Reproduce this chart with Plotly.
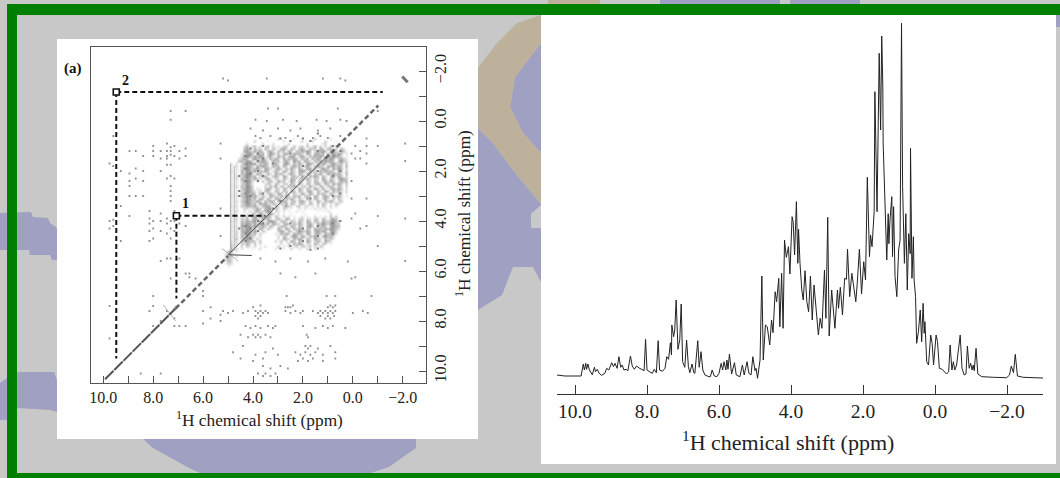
import plotly.graph_objects as go

W, H = 1060, 478
FONT = "Liberation Serif"

# ---------- 1D spectrum (ppm, intensity above axis, arbitrary units) ----------
spectrum_ppm = [10.51,10.28,9.83,9.79,9.77,9.74,9.70,9.68,9.64,9.60,9.57,9.52,9.46,9.43,9.38,9.33,9.26,9.17,9.12,9.06,
8.98,8.93,8.89,8.83,8.78,8.73,8.69,8.64,8.58,8.53,8.46,8.41,8.35,8.29,8.22,8.13,8.08,8.04,8.00,7.92,7.85,7.80,7.74,7.69,7.65,7.57,
7.50,7.45,7.40,7.35,7.32,7.31,7.26,7.23,7.19,7.14,7.09,7.05,7.01,6.95,6.90,6.85,6.81,6.75,6.70,6.67,6.59,6.55,6.50,6.45,6.39,6.28,
6.24,6.19,6.13,6.06,6.00,5.94,5.90,5.86,5.81,5.78,5.75,5.71,5.65,5.57,5.52,5.42,5.35,5.30,5.22,5.17,5.11,5.06,5.00,4.97,4.93,
4.86,4.81,4.77,4.71,4.66,4.59,4.54,4.50,4.44,4.40,4.34,4.31,4.26,4.22,4.18,4.13,4.07,4.03,3.97,3.94,3.90,3.85,3.81,3.79,3.75,3.70,
3.66,3.61,3.56,3.51,3.46,3.41,3.36,3.30,3.24,3.19,3.14,3.07,3.03,2.98,2.94,2.87,2.78,2.71,2.68,2.63,2.57,2.51,2.46,2.43,2.37,2.31,
2.25,2.20,2.16,2.10,2.04,1.98,1.93,1.88,1.82,1.79,1.75,1.69,1.67,1.64,1.61,1.55,1.51,1.48,1.45,1.44,1.34,1.30,1.28,1.25,1.20,1.18,
1.15,1.11,1.06,1.01,0.97,0.93,0.90,0.85,0.81,0.77,0.73,0.69,0.68,0.64,0.60,0.58,0.54,0.51,0.46,0.41,0.37,0.33,0.30,0.28,0.23,0.18,
0.12,0.08,0.04,-0.03,-0.07,-0.12,-0.20,-0.32,-0.38,-0.42,-0.47,-0.51,-0.55,-0.60,-0.67,-0.70,-0.75,-0.81,-0.86,-0.90,-0.95,-0.99,
-1.03,-1.06,-1.09,-1.14,-1.19,-1.30,-1.62,-1.99,-2.07,-2.12,-2.18,-2.23,-2.29,-2.45,-3.00]
spectrum_intensity = [18.7,17.7,17.7,25.4,29.7,23.7,30.4,24.4,29.7,23.7,22,19,26.4,22,24.4,20.4,18.4,20.4,25.4,23.7,
31,27,30.4,25.4,37,26.4,28.7,23.7,24.4,23,37.7,27.7,24.4,27.7,25.7,23.7,23,54.4,23.7,21.7,20.4,24.4,21,53,23.7,22.4,
25.4,37,34.4,51,38.7,68.7,57,63.7,93.7,44.4,53.7,89.7,32,26.4,53.7,27,21,29.7,21,20.4,53,26.4,42,23.7,18.7,17,
17,23.7,17.7,17,20.4,30.4,23.7,32,23.7,33.7,24.4,39.7,19.7,31,18.7,17,28.7,18.7,32,20.4,18.7,37,23,25.4,15.4,
33.7,117.7,33.7,68.7,67,48.7,73.7,61,102,92,115.4,67,120.4,65.4,153.7,136.4,147,119.7,177,172,138.7,192,130.4,164.4,130.4,103.7,
93.7,123,92,82,117.7,73.7,108.7,78.7,58.7,75.4,65.4,123.7,75.4,176.4,57.7,103.7,65.4,103.7,85.4,106.4,78.7,115.4,114.4,144.4,97,120.4,
102,92,110.4,144.4,99.7,132,113.7,216.4,137,158.7,147,182,302,233.7,182,340.4,263.7,357.7,308.7,250,133.7,180,150,173.7,197,137,
187,117,97,143.7,153.7,370.4,207,130.4,180,103.7,160,140,245.4,115.4,157,113.7,97,50.4,62,83.7,52,90.4,60.4,72,32,28.7,
58.7,50.4,28.7,58.7,52,25.4,24.4,19.7,22,48.7,23.7,32,23.7,28.7,50.4,58.7,25.4,18.7,19.7,47.7,25.4,30.4,
23.7,28.7,23,45.4,19.7,17,16.4,16,18.7,27.7,21,39.4,17.7,16.4,15.7]
spectrum_ticks = [10, 8, 6, 4, 2, 0, -2]
spectrum_ticktext = ["10.0", "8.0", "6.0", "4.0", "2.0", "0.0", "\u22122.0"]

# ---------- 2D map: darkness of the dense cross-peak cloud ----------
cloud_x = [round(5.2 - 0.105 * i, 3) for i in range(53)]
cloud_y = [round(0.6 + 0.1 * i, 1) for i in range(53)]
cloud_rows = [
"00000000000000000000000000000000000000000000000000000",
"00000000000000100000030000010000000300000200000000000",
"00000000000030000100000200000030003000030001000000000",
"00000000020000030002000003000000300000230000200000000",
"00000000250340202503020340040230402503030403200000000",
"00000000463052405304205630530462053406405503052000000",
"00000000574363620463053406405364750364750463064100000",
"00000002367506460375240563064530640563605374740200000",
"00000003586364750462063504750463053647306486530100000",
"00000024650475364053640635364053605364064750463200000",
"00000045376306475206350463074506430536475640574300000",
"00020202684570536304620574052630754063640574350400000",
"00020305376406475306350630463504630574306463640500000",
"00020204685357306530463052630640563403754063750300000",
"00030206376460536402530640530574064305364530640400000",
"00020205487306420530635204630530640536206374530500000",
"00020303586450365204530640352064053640530462640300000",
"00020306475364203630420530640352630430640530575400000",
"00020204586302040352063402640530340530462640364500000",
"00020203475200002430530340530620530463054063640400000",
"00030305386300003052604305364034063205304530530300000",
"00020204576402103640340530420630530640620463640200000",
"00020203486420304520530340640530463053064053530300000",
"00020205375640530353064053042063064052530630420100000",
"00030304586463052064305364053604530630464053530100000",
"00020203476350640530463052630420630530362040420000000",
"00020304585436405364053640350463042063053630340000000",
"00020203476350646305304260530342053040530204200000000",
"00030304365463055740530463203402302030420302000000000",
"00020200320236405670420320100202010202020100000000000",
"00020300203046305760320201002010000010102000000000000",
"00020201020530640573020100100001000000000300000000000",
"00030302140360753640420302010020100201020403000000000",
"00020304250475064530352064020340320430530564000000000",
"00030305364570640576304520530530640530643675200000000",
"00020206475364753606430463052630463064753764300000000",
"00030307586475364053024530640530574053640675400000000",
"00020305476350630420063064053640530645364764200000000",
"00030306586463042000036405304753640574650673000000000",
"00020405476350300000205363064530640463064562000000000",
"00030306385420200000030530475064053640574530000000000",
"00020504675303100000020642053640530643053420000000000",
"00030305364530400000304030640530640353064200000000000",
"00040304253040200000002004053640320530430100000000000",
"00050203042030102000040203024043050304200000000000000",
"00050302000100200000200100300200300200100000000000000",
"00570200000000000000000000000000000000000000000000000",
"02630000000000000000000000000000000000000000000000000",
"03540200000000000000000000000000000000000000000000000",
"04430000000000000000000000000000000000000000000000000",
"02530000000000000000000000000000000000000000000000000",
"01320000000000000000000000000000000000000000000000000",
"00100000000000000000000000000000000000000000000000000",
]

# cross-peak specks: one x with its y values
speck_columns = [
(9.75,[1.7,4.0,4.3,7.4,8.7]),(9.6,[0.6,1.8,3.95,4.2]),(9.3,[2.0,3.4,4.8]),
(8.95,[1.2,2.1,2.4,2.6,3.0,3.8]),(8.7,[1.2,1.9,2.3,3.0]),(8.4,[1.4,2.0,2.4,3.0]),
(8.15,[3.6,3.9,4.1,4.4,4.8,7.6]),(8.0,[1.0,1.2,1.4,4.0,4.3,4.7,7.0,7.4,8.2]),
(7.7,[1.2,1.5,2.0,3.7,4.0,4.4,5.6,8.0]),(7.45,[0.9,1.2,1.4,1.5,1.75,2.3,3.9,4.1,4.5,5.5,7.6]),
(7.3,[-0.4,-0.05,1.05,1.2,1.35,1.75,2.2,2.6,2.8,3.0,3.2,4.0,4.3,4.7,5.5,6.3]),
(7.15,[1.0,1.4,2.3,3.6,4.0,4.4,7.9,8.2]),(6.95,[1.2,1.5,4.1,5.5,8.2]),(6.7,[-0.4,1.1,1.4,4.2,6.1,8.2]),
(6.55,[6.1,6.25]),(6.3,[6.3]),(6.0,[6.8,7.0,7.6,8.1]),(5.7,[7.45,7.9]),(5.3,[0.9,1.5,3.5,4.6,7.75,8.0]),
(-0.55,[0.7,1.0,1.3,1.7,3.1,4.2]),(-1.0,[-0.4,1.0,3.8,5.0]),(-0.3,[1.2,1.5,4.3]),(-0.1,[1.0,1.5,3.7]),
(-2.1,[0.9,1.6,3.9,5.6]),(0.05,[1.3,2.4,3.1,3.9,6.3]),
]
speck_rows = [
(-1.7,[5.2,3.45,1.2,0.5]),(-1.62,[5.0,0.3]),(-0.5,[3.4,3.0,0.6]),
(-0.05,[3.9,2.8,1.45,0.5]),(0.0,[3.45,2.25,1.05,0.25]),(0.3,[4.1,3.0,2.1,0.9]),(0.38,[3.6,2.5,1.4]),
(0.6,[3.9,3.3,2.2,1.3,0.5]),(0.68,[3.7,2.7,1.6,1.0]),(5.5,[3.7,2.5,1.1]),(5.62,[3.1,1.8,0.2]),(6.1,[2.9,1.5]),(6.25,[2.3,-0.1]),
(7.0,[2.65,1.05,0.7,-0.75]),(7.45,[4.0,2.7,2.6,2.5,1.0,0.8]),(7.38,[3.7,2.4,0.9,0.7]),
(7.6,[5.2,4.8,4.2,3.9,3.7,3.5,2.7,2.3,2.0,1.6,1.3,1.1,0.9,0.7,-0.4]),
(7.68,[5.0,4.4,3.8,3.6,3.4,2.5,2.1,1.4,1.2,1.0,0.8,0.0,-0.6]),
(7.8,[3.9,3.7,1.3,1.0,0.75]),(7.9,[3.8,1.1,0.9]),(8.2,[4.3,3.9,3.4,3.1,2.0,1.2,0.8]),(8.28,[4.1,3.7,3.2,1.5,1.0,0.3]),
(8.55,[4.5,4.0,3.8,3.5,1.85]),(8.65,[4.2,3.9,3.7,3.3,1.8]),(9.0,[4.4,1.9,1.7,0.9]),(9.1,[3.2,1.8,1.4]),
(9.25,[4.8,3.5,2.3,1.9,1.5,0.7]),(9.35,[3.9,3.0,2.1,1.7,1.2]),(9.5,[4.5,3.6,2.0,1.6,0.7]),(9.6,[4.0,2.2,1.8,1.2]),
(9.8,[3.6,2.9]),(9.9,[3.3,2.6]),(10.1,[8.5,7.7,3.8,3.5,3.1]),(10.2,[3.6,3.3]),
]
dark_columns = [
(4.3,[1.4,1.9,2.4,2.9,4.2,4.5,4.8]),(4.1,[1.1,1.7,2.1,3.0,4.3,4.7]),(3.8,[1.3,1.6,2.0,2.4,4.0,4.4]),
(3.6,[1.0,1.5,2.2,2.9,4.1]),(3.2,[1.7,3.5]),(2.5,[0.8,1.3,4.1,5.0]),(2.0,[0.7,1.8,4.3,4.8]),
(1.4,[0.5,1.2,2.0,4.2,4.6,5.1]),(0.8,[1.0,2.2,3.0,4.1,4.5]),(0.5,[1.2,2.0,2.9,4.0]),
(2.9,[0.7,3.2,5.1]),(1.7,[0.8,3.1,5.15]),(4.55,[2.2,2.8,3.0,4.3]),
]

diagonal_thick_x = [9.93, 7.1]
diagonal_thick_y = [10.33, 7.5]
diagonal_beads_x = [7.1, 5.0, None, 1.1, -1.02]
diagonal_beads_y = [7.5, 5.4, None, 1.5, -0.62]
diagonal_thin_x = [5.0, 1.1]
diagonal_thin_y = [5.35, 1.48]
ridge_x = [4.9, 4.9, None, 4.75, 4.75, None, 4.4, 1.6, None, 5.25, 4.6, None, 7.6, 7.1, None, 7.05, 7.6, None, 1.35, 0.95]
ridge_y = [5.3, 1.7, None, 5.2, 1.8, None, 4.4, 1.65, None, 5.1, 5.6, None, 7.35, 8.0, None, 7.35, 8.0, None, 1.15, 1.7]
wing_x = [4.95, 4.05]
wing_y = [5.35, 5.38]
isolated_x = [-1.98, -2.05, -2.12, -2.2]
isolated_y = [-1.78, -1.7, -1.63, -1.55]

axis2d_ticks = list(range(-2, 11))
x2d_text = ["\u22122.0","","0.0","","2.0","","4.0","","6.0","","8.0","","10.0"]

# correlation paths (ppm)
path1_x = [7.07, 3.5, None, 7.07, 7.07]
path1_y = [3.79, 3.79, None, 3.79, 7.1]
path2_x = [9.48, -1.2, None, 9.48, 9.48]
path2_y = [-1.16, -1.16, None, -1.16, 9.5]
marker_x = [7.07, 9.48]
marker_y = [3.79, -1.16]

def flatten(cols, rows):
    xs, ys = [], []
    for x, yl in cols:
        for y in yl:
            xs.append(x); ys.append(y)
    for y, xl in rows:
        for x in xl:
            xs.append(x); ys.append(y)
    return xs, ys

fig = go.Figure()
cloud_z = [[int(c) for c in r.ljust(53, "0")] for r in cloud_rows]
fig.add_trace(go.Heatmap(x=cloud_x, y=cloud_y, z=cloud_z, zmin=0, zmax=11, zsmooth="best", showscale=False,
                         colorscale=[[0, "#ffffff"], [1, "#606060"]], hoverinfo="skip"))
sx, sy = flatten(speck_columns, speck_rows)
fig.add_trace(go.Scatter(x=sx, y=sy, mode="markers", marker=dict(size=1.8, color="#909090", symbol="square")))
dx, dy = flatten(dark_columns, [])
fig.add_trace(go.Scatter(x=dx, y=dy, mode="markers", marker=dict(size=2.2, color="#808080", symbol="square")))
fig.add_trace(go.Scatter(x=ridge_x, y=ridge_y, mode="lines", line=dict(color="#b4b4b4", width=1)))
fig.add_trace(go.Scatter(x=wing_x, y=wing_y, mode="lines", line=dict(color="#444444", width=1.2)))
fig.add_trace(go.Scatter(x=diagonal_thick_x, y=diagonal_thick_y, mode="lines", line=dict(color="#555555", width=2, dash="12px,1px")))
fig.add_trace(go.Scatter(x=diagonal_beads_x, y=diagonal_beads_y, mode="lines", line=dict(color="#666666", width=2.5, dash="5px,3px")))
fig.add_trace(go.Scatter(x=diagonal_thin_x, y=diagonal_thin_y, mode="lines", line=dict(color="#555555", width=1)))
fig.add_trace(go.Scatter(x=isolated_x, y=isolated_y, mode="lines", line=dict(color="#777777", width=3)))
for px_, py_ in ((path1_x, path1_y), (path2_x, path2_y)):
    fig.add_trace(go.Scatter(x=px_, y=py_, mode="lines", line=dict(color="#111111", width=2, dash="5px,3px")))
fig.add_trace(go.Scatter(x=marker_x, y=marker_y, mode="markers",
                         marker=dict(symbol="square", size=6, color="white", line=dict(color="#111111", width=1.6))))
fig.add_trace(go.Scatter(x=spectrum_ppm, y=spectrum_intensity, xaxis="x2", yaxis="y2", mode="lines",
                         line=dict(color="#222222", width=1)))

def px(x): return x / W
def py(y): return 1 - y / H
def poly(pts, color):
    d = "M " + " L ".join(f"{px(a):.5f},{py(b):.5f}" for a, b in pts) + " Z"
    return dict(type="path", xref="paper", yref="paper", path=d, fillcolor=color, line=dict(width=0), layer="below")
def rect(x0, y0, x1, y1, color, layer="below"):
    return dict(type="rect", xref="paper", yref="paper", x0=px(x0), x1=px(x1), y0=py(y0), y1=py(y1),
                fillcolor=color, line=dict(width=0), layer=layer)

BLUE, TAN = "#a0a0c2", "#bdb19b"
shapes = [
    poly([(478,128),(493,143),(513,170),(540,203),(541,203),(541,282),(533,267),(513,267),(502,295),(478,310)], BLUE),
    poly([(541,43),(515,77),(510,107),(523,133),(541,153)], BLUE),
    poly([(541,15),(517,23),(497,43),(478,68),(478,128),(493,143),(513,170),(541,204),(541,153),(523,133),(510,107),(515,77),(541,43)], TAN),
    poly([(533,212),(541,205),(541,228),(531,228),(531,214)], "#c8c8c8"),
    poly([(0,213),(31,212),(33,217),(48,218),(50,223),(57,228),(57,260),(52,260),(50,255),(30,255),(29,250),(0,250)], BLUE),
    poly([(0,383),(7,378),(18,372),(54,372),(57,380),(57,412),(50,410),(18,408),(7,420),(0,420)], BLUE),
    poly([(143,439),(153,448),(171,458),(189,468),(200,473),(371,473),(389,467),(403,457),(416,448),(416,439)], BLUE),
    rect(548, 0, 600, 4, TAN), rect(660, 0, 780, 4, BLUE), rect(790, 0, 860, 4, BLUE), rect(1056, 15, 1060, 27, BLUE),
    rect(57, 39, 478, 439, "#ffffff"),
    rect(541, 15, 1056, 464, "#ffffff"),
    rect(7, 4, 1060, 15, "#008000", "above"),
    rect(7, 4, 17, 478, "#008000", "above"),
    rect(7, 473, 1060, 478, "#008000", "above"),
]

ax_common = dict(showgrid=False, zeroline=False, ticks="inside", showline=True, linecolor="#555555", linewidth=1,
                 tickcolor="#555555", tickwidth=1, tickmode="array", tickfont=dict(family=FONT, size=16, color="#222222"))
title_text = "<sup>1</sup>H chemical shift (ppm)"
def note(text, x, y, size, angle=0, color="#222222"):
    return dict(text=text, x=px(x), y=py(y), xref="paper", yref="paper", showarrow=False, textangle=angle,
                xanchor="center", yanchor="middle", font=dict(family=FONT, size=size, color=color))
fig.update_layout(
    width=W, height=H, margin=dict(l=0, r=0, t=0, b=0), autosize=False, showlegend=False,
    paper_bgcolor="#c8c8c8", plot_bgcolor="rgba(0,0,0,0)", shapes=shapes,
    xaxis=dict(domain=[px(90.7), px(426)], range=[10.505, -2.934], anchor="y", mirror=True, ticklen=7,
               tickvals=axis2d_ticks, ticktext=x2d_text, **ax_common),
    yaxis=dict(domain=[py(383), py(47.3)], range=[10.48, -2.948], anchor="x", side="right", mirror=True, ticklen=7,
               tickvals=axis2d_ticks, ticktext=x2d_text, tickangle=-90, **ax_common),
    xaxis2=dict(domain=[px(557), px(1043)], range=[10.5, -3.0], anchor="y2", showgrid=False, zeroline=False,
                ticks="inside", ticklen=9, tickwidth=1, tickcolor="#333333", showline=True, linecolor="#333333", linewidth=1,
                tickvals=spectrum_ticks, ticktext=spectrum_ticktext, tickfont=dict(family=FONT, size=19.5, color="#222222")),
    yaxis2=dict(domain=[py(393.7), py(20)], range=[0, 373.7], anchor="x2", visible=False),
    annotations=[
        note(title_text, 259, 419, 17.3),
        note(title_text, 463, 214, 17.3, angle=-90),
        note(title_text, 788, 441, 22),
        note("<b>(a)</b>", 73, 68, 15, color="#111111"),
        note("<b>2</b>", 125.5, 80, 14, color="#111111"),
        note("<b>1</b>", 185, 203, 14, color="#111111"),
    ],
)
fig.write_html("out.html", config={"displayModeBar": False},
               post_script="document.body.style.margin='0';document.body.style.overflow='hidden';")
